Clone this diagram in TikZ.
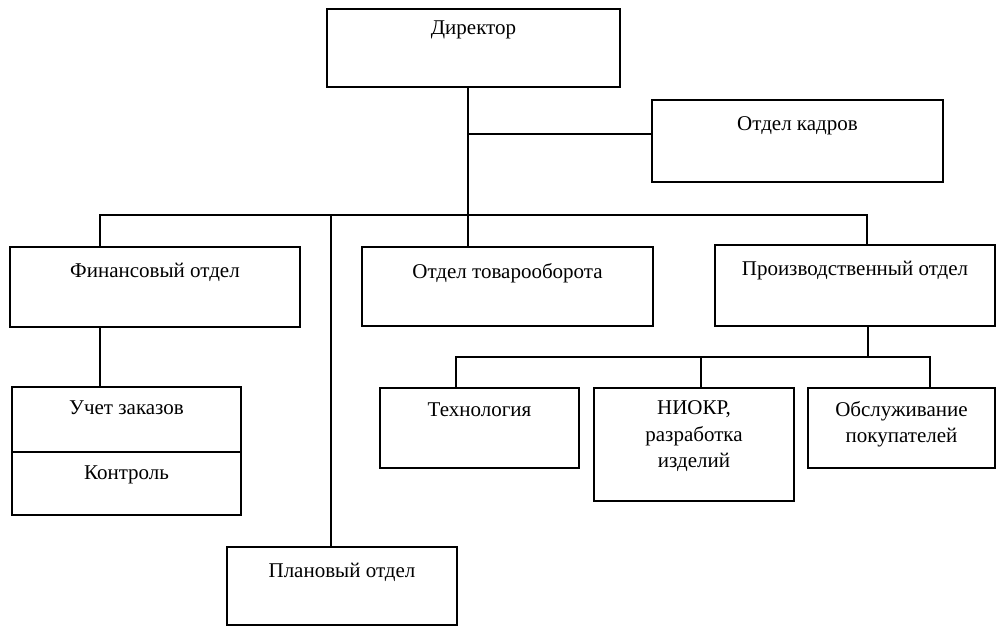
\documentclass[tikz,border=0pt]{standalone}
\usepackage{fontspec}
\setmainfont{Liberation Serif}
\usetikzlibrary{positioning}
\begin{document}
\begin{tikzpicture}[x=1pt,y=-1pt,line width=1.5pt,
    unit/.style={draw,rectangle,inner sep=0pt},
    title/.style={inner sep=3pt,align=center,font=\fontsize{21}{26.5}\selectfont}]
  \useasboundingbox (0,0) rectangle (998,628);
  % boxes
  \node[unit,minimum width=293,minimum height=78] (dir) at (473.5,48) {};
  \node[unit,minimum width=291,minimum height=82] (kadr) at (797.5,141) {};
  \node[unit,minimum width=290,minimum height=80] (fin) at (155,287) {};
  \node[unit,minimum width=291,minimum height=79] (tovar) at (507.5,286.5) {};
  \node[unit,minimum width=280,minimum height=81] (proizv) at (855,285.5) {};
  \node[unit,minimum width=229,minimum height=65] (uchet) at (126.5,419.5) {};
  \node[unit,minimum width=229,minimum height=63] (kontr) at (126.5,483.5) {};
  \node[unit,minimum width=230,minimum height=78] (plan) at (342,586) {};
  \node[unit,minimum width=199,minimum height=80] (tech) at (479.5,428) {};
  \node[unit,minimum width=200,minimum height=113] (niokr) at (694,444.5) {};
  \node[unit,minimum width=187,minimum height=80] (obsl) at (901.5,428) {};
  % texts
  \node[title,below=9pt of dir.north] (dir-t) {Директор};
  \node[title,below=14pt of kadr.north] (kadr-t) {Отдел кадров};
  \node[title,below=13pt of fin.north] (fin-t) {Финансовый отдел};
  \node[title,below=13pt of tovar.north] (tovar-t) {Отдел товарооборота};
  \node[title,below=13pt of proizv.north] (proizv-t) {Производственный отдел};
  \node[title,below=11pt of uchet.north] (uchet-t) {Учет заказов};
  \node[title,below=11pt of kontr.north] (kontr-t) {Контроль};
  \node[title,below=13pt of plan.north] (plan-t) {Плановый отдел};
  \node[title,below=12pt of tech.north] (tech-t) {Технология};
  \node[title,below=10pt of niokr.north] (niokr-t) {НИОКР,\\разработка\\изделий};
  \node[title,below=10pt of obsl.north] (obsl-t) {Обслуживание\\покупателей};
  % bus points
  \coordinate (trunk) at (468,215);
  \coordinate (b1) at (100,215);
  \coordinate (b2) at (331,215);
  \coordinate (b3) at (867,215);
  \coordinate (s0) at (868,357);
  \coordinate (s1) at (456,357);
  \coordinate (s2) at (701,357);
  \coordinate (s3) at (930,357);
  % lines
  \draw (dir.south -| trunk) -- (trunk |- tovar.north);
  \draw (trunk |- kadr.west) ++(0,-7) -- ([yshift=7pt]kadr.west);
  \draw (fin.north -| b1) -- (b1) -- (b3) -- (b3 |- proizv.north);
  \draw (b2) -- (b2 |- plan.north);
  \draw (fin.south -| b1) -- (b1 |- uchet.north);
  \draw (proizv.south -| s0) -- (s0);
  \draw (s1 |- tech.north) -- (s1) -- (s3) -- (s3 |- obsl.north);
  \draw (s2) -- (s2 |- niokr.north);
\end{tikzpicture}
\end{document}
